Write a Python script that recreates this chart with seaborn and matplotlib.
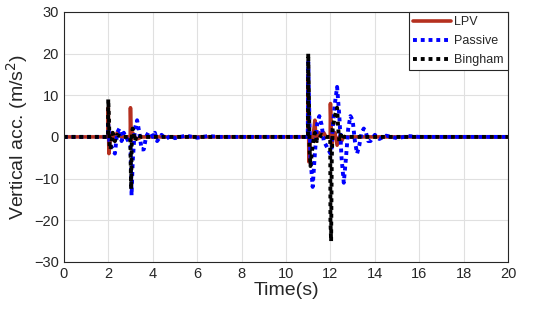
import numpy as np
import pandas as pd
import matplotlib
matplotlib.use("Agg")
import matplotlib.pyplot as plt
import seaborn as sns

# LPV controlled suspension
lpv_t = [0, 1.99, 2.0, 2.03, 2.1, 2.2, 2.3, 2.4, 2.5, 2.6, 2.99, 3.0, 3.03, 3.1, 3.2, 3.3, 3.5,
         10.99, 11.0, 11.03, 11.1, 11.2, 11.3, 11.35, 11.5, 11.6, 11.7, 11.8, 11.99, 12.0, 12.05,
         12.1, 12.2, 12.3, 12.4, 12.5, 12.6, 20]
lpv_acc = [0, 0, 7, -4, 0, 1, -1, 1, 0.5, 0, 0, 7, -1, 1, 0, -0.5, 0,
           0, 15, -6, 0, -1, 4, -1, 1, 0.5, 1, 0, 0, 8, -2,
           0, 1, -2, 0, -1, 0, 0]

# Passive suspension
passive_t = [0, 1.99, 2.0, 2.05, 2.1, 2.2, 2.3, 2.4, 2.5, 2.6, 2.7, 2.8, 2.9, 3.0, 3.05, 3.1, 3.2,
             3.3, 3.4, 3.5, 3.6, 3.7, 3.8, 3.9, 4.0, 4.1, 4.2, 4.4, 4.6, 4.8, 5.0, 5.5, 6.0, 6.5,
             7.0, 10.98, 11.0, 11.05, 11.1, 11.2, 11.3, 11.4, 11.5, 11.6, 11.7, 11.8, 11.9, 12.0,
             12.05, 12.1, 12.2, 12.3, 12.4, 12.5, 12.6, 12.7, 12.8, 12.9, 13.0, 13.1, 13.2, 13.3,
             13.4, 13.5, 13.6, 13.7, 13.8, 14.0, 14.2, 14.5, 15.0, 15.5, 16.0, 20]
passive_acc = [0, 0, 3, -1, -2, -3, -4, 1, 2, -1, 1, 0, -1, -2, -14, -6, 2,
               4, 1, -3, -3, 0, 1, 1, 0, 1, -1, 0.5, -0.5, 0.3, -0.3, 0.3, -0.2, 0.2,
               0, 0, 18, 5, -5, -12, -4, 3, 5, 3, -1, -2, -3, -4,
               -3, 2, 8, 12, 5, -5, -11, -5, 2, 5, 4, -1, -4, -2,
               1, 2, 1, -1, -1, 0.5, -0.5, 0.3, -0.3, 0.2, 0, 0]

# Bingham model
bingham_t = [0, 1.99, 2.0, 2.03, 2.06, 2.1, 2.2, 2.3, 2.4, 2.6, 2.99, 3.0, 3.03, 3.06, 3.1, 3.2,
             3.3, 3.5, 10.99, 11.0, 11.03, 11.06, 11.1, 11.2, 11.3, 11.4, 11.6, 11.8, 11.99, 12.0,
             12.03, 12.06, 12.1, 12.2, 12.3, 12.35, 12.4, 12.5, 12.6, 20]
bingham_acc = [0, 0, 9, 5, -2, -3, 1, -1, 0.5, 0, 0, -2, -12.5, 0, 2, -1,
               0.5, 0, 0, 20, 10, -3, -7, -2, 1, -1, 0.5, 0, 0, -20,
               -25, -5, 2, 5, 7, 2, -1, 1, 0, 0]

x_ticks = list(range(0, 21, 2))
y_ticks = list(range(-30, 31, 10))

sns.set_style("whitegrid")
plt.rcParams["font.family"] = ["Liberation Sans", "DejaVu Sans"]

fig = plt.figure(figsize=(5.5, 3.21), dpi=100)
ax = fig.add_axes([0.116, 0.184, 0.808, 0.779])

sns.lineplot(x=lpv_t, y=lpv_acc, ax=ax, color="#b5301f", linewidth=2.6,
             sort=False, estimator=None, label="LPV")
sns.lineplot(x=passive_t, y=passive_acc, ax=ax, color="#0000ff", linewidth=2.8,
             linestyle=(0, (1, 1)), sort=False, estimator=None, label="Passive")
sns.lineplot(x=bingham_t, y=bingham_acc, ax=ax, color="black", linewidth=2.8,
             linestyle=(0, (1, 1)), sort=False, estimator=None, label="Bingham")

ax.set_xlim(0, 20)
ax.set_ylim(-30, 30)
ax.set_xticks(x_ticks)
ax.set_yticks(y_ticks)
ax.tick_params(axis="both", labelsize=10.5, colors="#262626", direction="in", length=3)
ax.grid(True, color="#e0e0e0", linewidth=0.8)
for s in ax.spines.values():
    s.set_color("#262626")
    s.set_linewidth(0.8)

ax.set_xlabel("Time(s)", fontsize=14, color="#262626", labelpad=1)
ax.set_ylabel("Vertical acc. (m/s$^2$)", fontsize=14, color="#262626", labelpad=3)

leg = ax.legend(loc="upper right", fontsize=9, frameon=True, fancybox=False,
                borderaxespad=0, handlelength=3.0, borderpad=0.35, labelspacing=0.55,
                handletextpad=0.3)
leg.get_frame().set_edgecolor("#262626")
leg.get_frame().set_linewidth(0.8)
leg.get_frame().set_alpha(1)

fig.savefig("out.png", dpi=100)
